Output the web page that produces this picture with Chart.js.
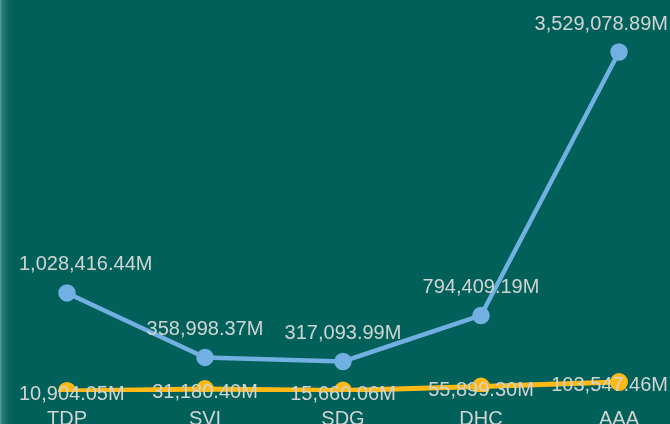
<!DOCTYPE html>
<html>
<head>
<meta charset="utf-8">
<script src="https://cdn.jsdelivr.net/npm/chart.js@4/dist/chart.umd.min.js"></script>
<style>
  html, body { margin: 0; padding: 0; background: #01605A; }
  #wrap { position: relative; width: 670px; height: 424px; overflow: hidden; }
  #edge { position: absolute; left: 0; top: 0; width: 18px; height: 424px; pointer-events: none;
          background: linear-gradient(to right, rgba(170,215,210,0.55) 0px, rgba(120,180,175,0.35) 2px, rgba(60,140,135,0.15) 8px, rgba(1,96,90,0) 17px); }
</style>
</head>
<body>
<div id="wrap">
  <canvas id="c" width="670" height="424"></canvas>
  <div id="edge"></div>
</div>
<script>
const categories = ['TDP', 'SVI', 'SDG', 'DHC', 'AAA'];
const seriesBlue = [1028416.44, 358998.37, 317093.99, 794409.19, 3529078.89];
const seriesYellow = [10904.05, 31180.40, 15660.06, 55899.30, 103547.46];

const labelColor = 'rgb(208,212,210)';
const fontFamily = '"Liberation Sans", Arial, sans-serif';
const labelFont = '20px ' + fontFamily;

const fmt = v => v.toLocaleString('en-US', { minimumFractionDigits: 2, maximumFractionDigits: 2 }) + 'M';

// Value labels next to each point, kept inside the canvas edges
const valueLabels = {
  id: 'valueLabels',
  afterDatasetsDraw(chart) {
    const ctx = chart.ctx;
    ctx.save();
    ctx.font = labelFont;
    ctx.fillStyle = labelColor;
    ctx.textAlign = 'center';
    ctx.textBaseline = 'middle';
    chart.data.datasets.forEach((ds, i) => {
      const meta = chart.getDatasetMeta(i);
      meta.data.forEach((pt, j) => {
        const text = fmt(ds.data[j]);
        const w = ctx.measureText(text).width;
        const x = Math.min(Math.max(pt.x, 19 + w / 2), 668 - w / 2);
        ctx.fillText(text, x, pt.y + ds.labelOffset);
      });
    });
    ctx.restore();
  }
};

new Chart(document.getElementById('c'), {
  type: 'line',
  data: {
    labels: categories,
    datasets: [
      {
        data: seriesBlue,
        borderColor: '#72B0E2',
        backgroundColor: '#72B0E2',
        borderWidth: 4.5,
        pointRadius: 6.5,
        pointHoverRadius: 6.5,
        tension: 0,
        labelOffset: -28
      },
      {
        data: seriesYellow,
        borderColor: '#FFB914',
        backgroundColor: '#FFB914',
        borderWidth: 5,
        pointRadius: 6.5,
        pointHoverRadius: 6.5,
        tension: 0,
        labelOffset: 3.5
      }
    ]
  },
  options: {
    responsive: false,
    animation: false,
    layout: { padding: { left: 67, right: 51, top: 1, bottom: 0 } },
    plugins: { legend: { display: false }, tooltip: { enabled: false } },
    scales: {
      x: {
        offset: false,
        grid: { display: false, drawTicks: false },
        border: { display: false },
        ticks: { color: labelColor, font: { family: fontFamily, size: 20 }, padding: 15, maxRotation: 0 },
        afterFit: s => { s.height = 32; }
      },
      y: {
        display: false,
        min: 0,
        max: 3950000
      }
    }
  },
  plugins: [valueLabels]
});
</script>
</body>
</html>
